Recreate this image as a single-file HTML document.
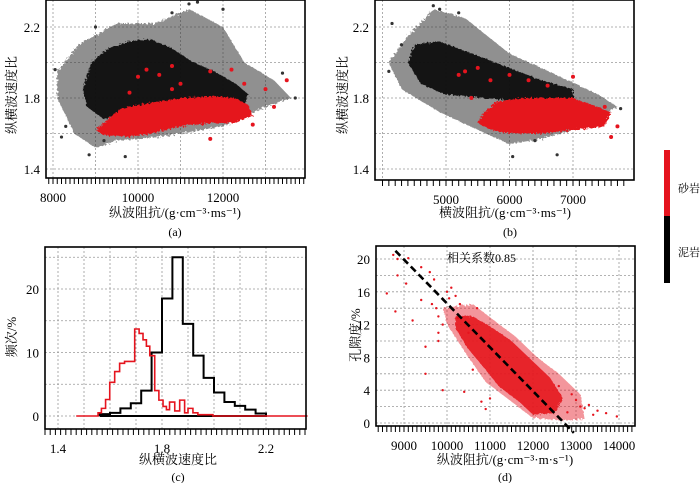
<!DOCTYPE html>
<html><head><meta charset="utf-8">
<style>
html,body{margin:0;padding:0;background:#fff;}
svg{display:block;font-family:"Liberation Serif","Noto Serif CJK SC",serif;}
</style></head>
<body>
<svg id="fig" width="700" height="483" viewBox="0 0 700 483" xmlns="http://www.w3.org/2000/svg">
<defs>
<filter id="rough" x="-10%" y="-10%" width="120%" height="120%">
<feTurbulence type="fractalNoise" baseFrequency="0.45" numOctaves="2" seed="3" result="n"/>
<feDisplacementMap in="SourceGraphic" in2="n" scale="5"/>
</filter>
</defs>
</svg>
<script>
// ===== Panel (a) data: P-impedance vs Vp/Vs =====
const aShaleHaloX=[8100,8600,9500,10400,11200,12000,12500,13200,13600,13000,12000,10500,9500,9000,8500,8100];
const aShaleHaloY=[1.95,2.1,2.22,2.22,2.3,2.2,2.0,1.9,1.8,1.75,1.64,1.58,1.56,1.52,1.6,1.8];
const aShaleX=[8700,8900,9300,9800,10300,10800,11300,11800,12300,12600,12500,11500,10500,9700,9200,8800];
const aShaleY=[1.85,2.0,2.08,2.12,2.13,2.08,2.0,1.95,1.88,1.82,1.76,1.78,1.76,1.72,1.68,1.75];
const aSandX=[9000,9200,9600,10200,11000,11800,12300,12600,12700,12300,11800,11000,10300,9800,9200];
const aSandY=[1.62,1.66,1.74,1.77,1.8,1.81,1.8,1.76,1.7,1.66,1.66,1.64,1.6,1.58,1.59];
const aSandOutX=[10000,10200,10500,10800,11000,11700,12200,12500,13000,13500,13200,11700,10800,12700,9800];
const aSandOutY=[1.92,1.96,1.93,1.98,1.88,1.95,1.96,1.88,1.85,1.9,1.75,1.57,1.85,1.65,1.83];
const aShaleOutX=[8050,8300,8200,8850,9700,9000,11200,11400,12000,13400,13700,9200,10800];
const aShaleOutY=[1.96,1.64,1.58,1.48,1.47,2.2,2.33,2.34,2.3,1.94,1.8,1.56,2.28];
const aXTicks=[8000,10000,12000];
const aYTicks=[1.4,1.8,2.2];
// ===== Panel (b) data: S-impedance vs Vp/Vs =====
const bShaleHaloX=[4100,4400,4800,5300,6000,6800,7400,7700,7000,6500,6000,5500,4900,4300];
const bShaleHaloY=[2.0,2.15,2.3,2.25,2.05,1.92,1.82,1.75,1.62,1.57,1.54,1.62,1.72,1.85];
const bShaleX=[4500,4900,5400,6000,6500,7000,7000,6200,5600,5000,4600,4400];
const bShaleY=[2.1,2.12,2.05,1.97,1.9,1.85,1.8,1.78,1.8,1.82,1.88,2.0];
const bSandX=[5600,5800,6200,7000,7300,7600,7500,7000,6500,6000,5700,5500];
const bSandY=[1.72,1.78,1.8,1.8,1.76,1.72,1.64,1.62,1.6,1.6,1.62,1.66];
const bSandOutX=[5200,5300,5500,5700,6000,6300,6600,7000,7500,7600,7700,5400];
const bSandOutY=[1.93,1.95,1.97,1.9,1.93,1.9,1.87,1.92,1.75,1.58,1.64,1.8];
const bShaleOutX=[4150,4300,4800,4900,5200,6050,6750,7750,6400,4100];
const bShaleOutY=[2.22,2.1,2.32,2.3,2.28,1.47,1.48,1.74,1.56,1.95];
const bXTicks=[5000,6000,7000];
const bYTicks=[1.4,1.8,2.2];
// ===== Panel (c) data: histograms =====
const cShaleStart=1.56, cShaleBin=0.04;
const cShaleFreq=[0.3,0.5,1.2,2.0,4.0,10,18.5,25,14.5,9.5,6.0,3.7,2.2,1.6,1.0,0.4];
const cSandEdges=[1.554,1.567,1.583,1.599,1.618,1.637,1.656,1.695,1.712,1.727,1.740,1.753,1.772,1.788,1.804,1.817,1.829,1.849,1.868,1.887,1.900,1.919,1.938,1.996];
const cSandFreq=[0.5,1.2,2.6,5.3,7.0,8.3,8.6,13.7,13.0,12.0,11.0,9.5,4.0,2.5,1.5,1.0,2.2,0.8,2.5,0.5,1.2,0.5,0.2];
const cXTicks=[1.4,1.8,2.2];
const cYTicks=[0,10,20];
// ===== Panel (d) data: impedance vs porosity =====
const dHaloX=[9900,10600,11100,11600,12100,12600,13100,13200,12800,12000,11400,10900,10500,10000];
const dHaloY=[14,14.5,12.5,10.5,8,6,3.5,0.5,0.3,0.6,3,5,8,12];
const dDenseX=[10200,10600,11000,11500,12000,12400,12700,12500,12000,11700,11200,10900,10500,10200];
const dDenseY=[13,13,11.8,10,7.5,5.5,3,1.2,1,2.5,4.5,6.5,9,11.5];
const dOutX=[8600,8750,8850,8850,8800,9050,9100,9200,9400,9400,9500,9600,9700,9800,9800,9900,10000,10100,10200,10300,10400,10700,10500,9500,9900,9800,13100,13300,13500,13700,13950,12900,13000,12600,10900,11000,9650,9750,10050,10150,10250,10600,10800,13200,13400,12800];
const dOutY=[15.8,20.5,20,18,13.6,17,20.1,12.5,19,15,9.3,18.4,17.5,11,10,4,16,16.5,15.5,14.5,3.8,14,11,6,12,13,2,2.2,1.5,1.2,0.8,3.5,2.8,4.5,1.7,3,14.5,14,15.2,13.8,12.8,6.5,2.6,1.8,1.0,1.3];
const dFitX=[8800,12950];
const dFitY=[21,-1.2];
const dXTicks=[9000,10000,11000,12000,13000,14000];
const dYTicks=[0,4,8,12,16,20];

const svg=document.getElementById('fig');
const NS='http://www.w3.org/2000/svg';
function mk(tag,attrs,parent){const e=document.createElementNS(NS,tag);for(const k in attrs)e.setAttribute(k,attrs[k]);(parent||svg).appendChild(e);return e;}
function lin(d0,d1,p0,p1){return v=>p0+(v-d0)*(p1-p0)/(d1-d0);}

function panel(name,box,sx,sy,xGrid,yGrid,xTicks,yTicks,xMinor,xMinorStep,fmtY){
  const g=mk('g',{});
  
  
  xGrid.forEach(v=>{const l=mk('line',{x1:sx(v),x2:sx(v),y1:box.t,y2:box.b,stroke:'#999','stroke-width':0.8,'stroke-dasharray':'2,2'},g);
    });
  yGrid.forEach(v=>{const l=mk('line',{x1:box.l,x2:box.r,y1:sy(v),y2:sy(v),stroke:'#999','stroke-width':0.8,'stroke-dasharray':'2,2'},g);
    });
  for(let v=xMinor[0];v<=xMinor[1]+1e-9;v+=xMinorStep){const x=sx(v);if(x<box.l-1||x>box.r+1)continue;
    mk('line',{x1:x,x2:x,y1:box.b,y2:box.b+6,stroke:'#000','stroke-width':1},g);}
  xTicks.forEach(v=>{const t=mk('text',{x:sx(v),y:box.b+24,'text-anchor':'middle','font-size':13},g);t.textContent=v;
    });
  yTicks.forEach(v=>{const t=mk('text',{x:box.l-6,y:sy(v)+5,'text-anchor':'end','font-size':13},g);t.textContent=fmtY(v);
    });
  return g;
}
function frame(g,box){const r=mk('rect',{x:box.l,y:box.t,width:box.r-box.l,height:box.b-box.t,fill:'none',stroke:'#000','stroke-width':1.6},g);
  }
function poly(g,xs,ys,sx,sy,fill,op,filt,name){const pts=xs.map((x,i)=>sx(x)+','+sy(ys[i])).join(' ');
  const p=mk('polygon',{points:pts,fill:fill,'fill-opacity':op,filter:filt?'url(#rough)':''},g);
  }
function dots(g,xs,ys,sx,sy,fill,r,name){xs.forEach((x,i)=>{const c=mk('circle',{cx:sx(x),cy:sy(ys[i]),r:r,fill:fill},g);
  });}
function txt(x,y,s,size,name,rot,anchor){const t=mk('text',{x:x,y:y,'font-size':size,'text-anchor':anchor||'middle'});
  if(rot)t.setAttribute('transform','rotate(-90 '+x+' '+y+')');t.textContent=s;
  return t;}
const f1=v=>v.toFixed(1);

// Panel (a)
const boxA={l:46,r:305,t:0,b:178};
const ax=lin(10000,12000,138,223), ay=lin(1.8,2.2,98,27);
const gA=panel('panel-a',boxA,ax,ay,[8000,9000,10000,11000,12000,13000],[1.4,1.6,1.8,2.0,2.2],aXTicks,aYTicks,[7900,13900],100,f1);
poly(gA,aShaleHaloX,aShaleHaloY,ax,ay,'#333',0.55,true,'shale-halo-a');
poly(gA,aShaleX,aShaleY,ax,ay,'#111',0.95,true,'shale-cloud-a');
dots(gA,aShaleOutX,aShaleOutY,ax,ay,'#333',1.6,'shale-point-a');
poly(gA,aSandX,aSandY,ax,ay,'#e5141e',1,true,'sand-cloud-a');
dots(gA,aSandOutX,aSandOutY,ax,ay,'#e5141e',2,'sand-point-a');
frame(gA,boxA);
txt(16,95,'纵横波速度比',13,'y-axis-title-a',true);
txt(175,217,'纵波阻抗/(g·cm⁻³·ms⁻¹)',13,'x-axis-title-a');
txt(175,236,'(a)',12,'panel-label-a');

// Panel (b)
const boxB={l:375,r:634,t:0,b:180};
const bx=lin(5000,7000,446,573), by=ay;
const gB=panel('panel-b',boxB,bx,by,[4000,5000,6000,7000],[1.4,1.6,1.8,2.0,2.2],bXTicks,bYTicks,[4000,7800],100,f1);
poly(gB,bShaleHaloX,bShaleHaloY,bx,by,'#333',0.55,true,'shale-halo-b');
poly(gB,bShaleX,bShaleY,bx,by,'#111',0.95,true,'shale-cloud-b');
dots(gB,bShaleOutX,bShaleOutY,bx,by,'#333',1.6,'shale-point-b');
poly(gB,bSandX,bSandY,bx,by,'#e5141e',1,true,'sand-cloud-b');
dots(gB,bSandOutX,bSandOutY,bx,by,'#e5141e',2,'sand-point-b');
frame(gB,boxB);
txt(347,95,'纵横波速度比',13,'y-axis-title-b',true);
txt(505,217,'横波阻抗/(g·cm⁻³·ms⁻¹)',13,'x-axis-title-b');
txt(510,236,'(b)',12,'panel-label-b');

// Legend colorbar
const lg=mk('g',{});
const lr=mk('rect',{x:664,y:150,width:6,height:66,fill:'#e5141e'},lg);
const lb=mk('rect',{x:664,y:216,width:6,height:67,fill:'#000'},lg);
txt(678,192,'砂岩',11,'legend-sandstone-label',false,'start');
txt(678,256,'泥岩',11,'legend-mudstone-label',false,'start');

// Panel (c)
const boxC={l:45,r:306,t:247,b:429};
const cx=lin(1.4,1.8,58,162), cy=lin(0,20,416,289);
const gC=panel('panel-c',boxC,cx,cy,[1.4,1.5,1.6,1.7,1.8,1.9,2.0,2.1,2.2],[0,5,10,15,20,25],cXTicks,cYTicks,[1.35,2.35],0.02,v=>String(v));
function stepPath(edges,vals,color,w,name,x0,x1){
  let d='M'+cx(x0)+','+cy(0)+' L'+cx(edges[0])+','+cy(0);
  vals.forEach((v,i)=>{d+=' L'+cx(edges[i])+','+cy(v)+' L'+cx(edges[i+1])+','+cy(v);});
  d+=' L'+cx(edges[vals.length])+','+cy(0)+' L'+cx(x1)+','+cy(0);
  const p=mk('path',{d:d,fill:'none',stroke:color,'stroke-width':w},gC);}
const cShaleEdges=cShaleFreq.map((v,i)=>cShaleStart+i*cShaleBin).concat([cShaleStart+cShaleFreq.length*cShaleBin]);
stepPath(cShaleEdges,cShaleFreq,'#000',2,'shale-histogram',cShaleStart,cShaleStart);
stepPath(cSandEdges,cSandFreq,'#e5141e',1.6,'sandstone-histogram',1.47,2.36);
frame(gC,boxC);
txt(16,337,'频次/%',13,'y-axis-title-c',true);
txt(178,464,'纵横波速度比',13,'x-axis-title-c');
txt(178,481,'(c)',12,'panel-label-c');

// Panel (d)
const boxD={l:376,r:635,t:246,b:426};
const dx=lin(10000,14000,447,619), dy=lin(0,20,423,259);
const gD=panel('panel-d',boxD,dx,dy,[9000,10000,11000,12000,13000,14000],[0,2,4,6,8,10,12,14,16,18,20],dXTicks,dYTicks,[8300,14300],100,v=>String(v));
poly(gD,dHaloX,dHaloY,dx,dy,'#e5141e',0.45,true,'porosity-halo');
poly(gD,dDenseX,dDenseY,dx,dy,'#e5141e',0.9,true,'porosity-cloud');
dots(gD,dOutX,dOutY,dx,dy,'#e5141e',1.2,'porosity-point');
const fl=mk('line',{x1:dx(dFitX[0]),y1:dy(dFitY[0]),x2:dx(dFitX[1]),y2:dy(dFitY[1]),stroke:'#000','stroke-width':2.6,'stroke-dasharray':'7,4'},gD);

frame(gD,boxD);
txt(447,262,'相关系数0.85',12,'correlation-label',false,'start');
txt(360,335,'孔隙度/%',13,'y-axis-title-d',true);
txt(505,464,'纵波阻抗/(g·cm⁻³·m·s⁻¹)',13,'x-axis-title-d');
txt(505,481,'(d)',12,'panel-label-d');
</script>
</body></html>
